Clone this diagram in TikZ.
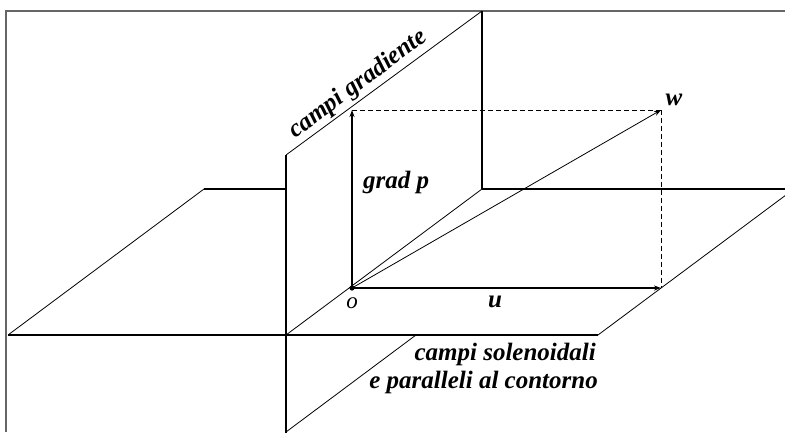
\documentclass[tikz,border=0pt]{standalone}
\usepackage{fontspec}
\setmainfont{Liberation Serif}
\usetikzlibrary{arrows.meta}
\begin{document}
\begin{tikzpicture}[x=1pt,y=-1pt,
  frame/.style={draw=black!60, line width=2.2pt},
  edge/.style={draw=black, line width=1.1pt},
  slant/.style={draw=black, line width=0.8pt},
  vec/.style={draw=black, line width=1.1pt, -{Stealth[length=7pt,width=5pt]}},
  guide/.style={draw=black, line width=0.9pt, dash pattern=on 5pt off 3pt},
  lab/.style={font=\fontsize{25}{28}\selectfont\bfseries\itshape, inner sep=0pt}]
\fill[white] (0,0) rectangle (785,432);
\useasboundingbox (0,0) rectangle (785,432);
% frame
\coordinate (F1) at (6,432);
\coordinate (F2) at (6,11);
\coordinate (F3) at (785,11);
\draw[frame] (F1) -- (F2) -- (F3);
% horizontal plane
\coordinate (HA) at (8,335);
\coordinate (HB) at (598,335);
\coordinate (HC) at (794,189);
\coordinate (HD) at (204,189);
\coordinate (HE) at (286,189);
\coordinate (HF) at (482,189);
\draw[edge] (HA) -- (HB);
\draw[edge] (HD) -- (HE);
\draw[edge] (HF) -- (HC);
\draw[slant] (HA) -- (HD);
\draw[slant] (HB) -- (HC);
% vertical plane
\coordinate (VA) at (286,440);
\coordinate (VB) at (286,155);
\coordinate (VC) at (482,11);
\coordinate (VD) at (482,189);
\coordinate (VE) at (286,432);
\coordinate (VF) at (416,335);
\coordinate (VG) at (286,335);
\draw[edge] (VA) -- (VB);
\draw[slant] (VB) -- (VC);
\draw[edge] (VC) -- (VD);
\draw[slant] (VE) -- (VF);
\draw[slant] (VG) -- (VD);
% vectors
\coordinate (O) at (352,288);
\coordinate (U) at (661,288);
\coordinate (G) at (352,110);
\coordinate (W) at (661,110);
\fill (O) circle (2.6pt);
\draw[guide] (G) -- (W);
\draw[guide] (W) -- (U);
\draw[vec] (O) -- (U);
\draw[vec] (O) -- (G);
\draw[slant, -{Stealth[length=7pt,width=5pt]}] (O) -- (W);
% labels
\node[lab, font=\fontsize{23}{26}\selectfont\itshape] (lo) at (352,303) {o};
\node[lab] (lu) at (495,302) {u};
\node[lab] (lw) at (674,100) {w};
\node[lab, anchor=base west] (lg) at (363,188) {grad p};
\node[lab, rotate=36.7, anchor=south, inner sep=1.5pt] (lcg) at (366,95) {campi gradiente};
\node[lab, anchor=base east] (ls1) at (596,360) {campi solenoidali};
\node[lab, anchor=base east] (ls2) at (598,388) {e paralleli al contorno};
\end{tikzpicture}
\end{document}
